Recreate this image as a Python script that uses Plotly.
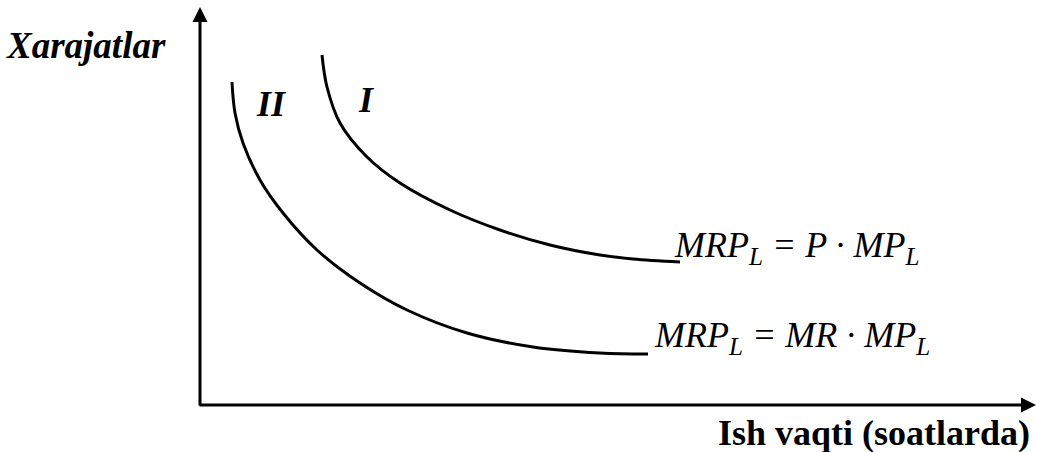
import plotly.graph_objects as go

# curve data (x from origin, y upward)
curve1_x = [122, 127, 140, 167, 200, 250, 300, 350, 400, 433, 480]
curve1_y = [350, 318, 282, 248, 222, 195, 175, 160, 150, 146, 143]
curve2_x = [32, 35, 43, 60, 83, 117, 160, 207, 267, 333, 400, 448]
curve2_y = [323, 292, 262, 225, 192, 155, 122, 95, 72, 58, 52, 51]

y_title = "Xarajatlar"
x_title = "Ish vaqti (soatlarda)"
label1 = "I"
label2 = "II"
eq1 = "MRP<sub>L</sub> = P · MP<sub>L</sub>"
eq2 = "MRP<sub>L</sub> = MR · MP<sub>L</sub>"

serif = "Liberation Serif, Times New Roman, serif"
X_MAX, Y_MAX = 837, 405

fig = go.Figure()
for xs, ys in [(curve1_x, curve1_y), (curve2_x, curve2_y)]:
    fig.add_trace(go.Scatter(x=xs, y=ys, mode="lines",
                             line=dict(color="black", width=3, shape="spline", smoothing=1.0),
                             hoverinfo="skip", showlegend=False))

# axes with arrows
fig.add_annotation(x=0, y=398, ax=0, ay=-2, xref="x", yref="y", axref="x", ayref="y",
                   showarrow=True, arrowhead=2, arrowsize=1.0, arrowwidth=3, arrowcolor="black", text="")
fig.add_annotation(x=836, y=0, ax=-2, ay=0, xref="x", yref="y", axref="x", ayref="y",
                   showarrow=True, arrowhead=2, arrowsize=1.0, arrowwidth=3, arrowcolor="black", text="")

# labels outside the plot area use paper coordinates
fig.add_annotation(x=-32 / X_MAX, y=360 / Y_MAX, xref="paper", yref="paper",
                   text="<b><i>%s</i></b>" % y_title,
                   showarrow=False, xanchor="right", yanchor="middle",
                   font=dict(family=serif, size=37, color="black"))
fig.add_annotation(x=832 / X_MAX, y=-6 / Y_MAX, xref="paper", yref="paper",
                   text="<b>%s</b>" % x_title,
                   showarrow=False, xanchor="right", yanchor="top",
                   font=dict(family=serif, size=36, color="black"))

fig.add_annotation(x=166, y=305, xref="x", yref="y", text="<b><i>%s</i></b>" % label1,
                   showarrow=False, xanchor="center", yanchor="middle",
                   font=dict(family=serif, size=36, color="black"))
fig.add_annotation(x=71, y=301, xref="x", yref="y", text="<b><i>%s</i></b>" % label2,
                   showarrow=False, xanchor="center", yanchor="middle",
                   font=dict(family=serif, size=36, color="black"))
fig.add_annotation(x=472, y=158, xref="x", yref="y", text="<i>%s</i>" % eq1,
                   showarrow=False, xanchor="left", yanchor="middle",
                   font=dict(family=serif, size=36, color="black"))
fig.add_annotation(x=452, y=68, xref="x", yref="y", text="<i>%s</i>" % eq2,
                   showarrow=False, xanchor="left", yanchor="middle",
                   font=dict(family=serif, size=36, color="black"))

fig.update_layout(
    width=1037, height=452,
    margin=dict(l=200, r=0, t=0, b=47, autoexpand=False),
    plot_bgcolor="white", paper_bgcolor="white",
    xaxis=dict(range=[0, X_MAX], visible=False),
    yaxis=dict(range=[0, Y_MAX], visible=False),
)

fig.write_html("out.html", config={"displayModeBar": False},
               post_script="document.body.style.margin='0';")
